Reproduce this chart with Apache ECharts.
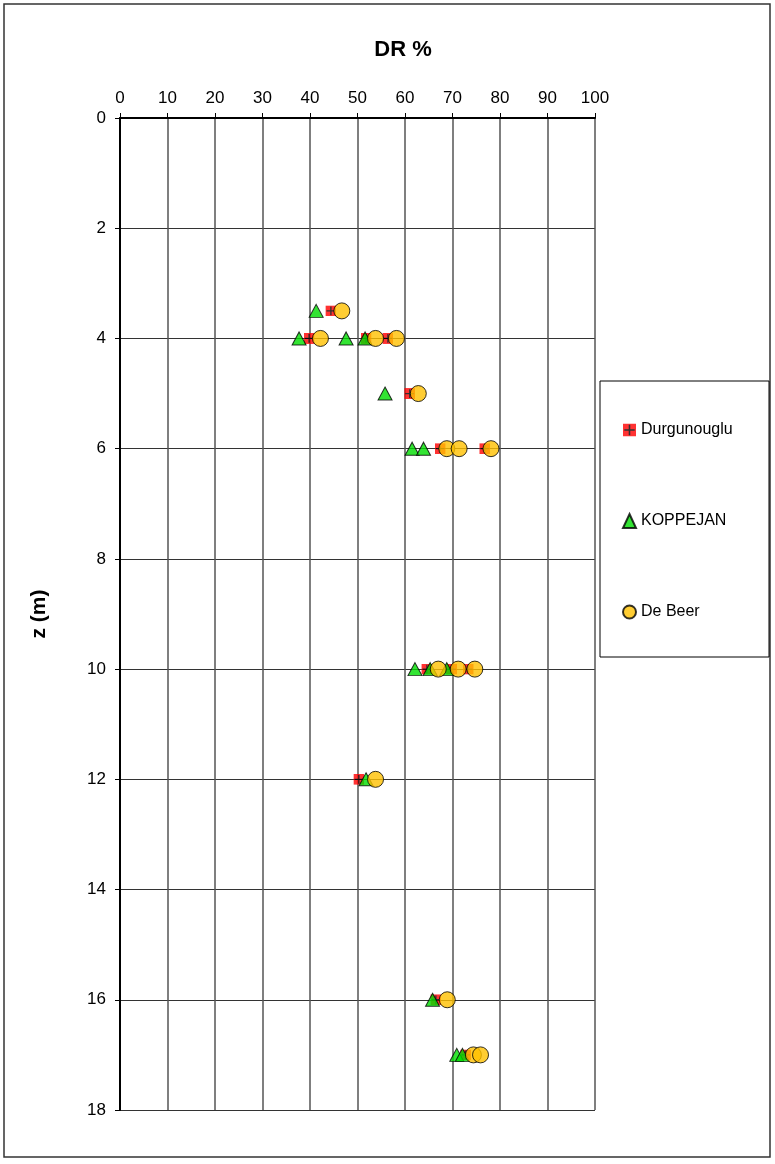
<!DOCTYPE html>
<html>
<head>
<meta charset="utf-8">
<script src="https://cdn.jsdelivr.net/npm/echarts@6/dist/echarts.min.js"></script>
<style>
  html, body { margin: 0; padding: 0; background: #fff; }
  #chart { width: 775px; height: 1164px; }
</style>
</head>
<body>
<div id="chart"></div>
<script>
// Relative density DR (%) against depth z (m), three correlations
const xTicks = [0, 10, 20, 30, 40, 50, 60, 70, 80, 90, 100];
const yTicks = [0, 2, 4, 6, 8, 10, 12, 14, 16, 18];

const durgDepth = [3.5, 4, 4, 4, 5, 6, 6, 10, 10, 10, 12, 16, 17];
const durgDR    = [44.4, 39.8, 51.8, 56.4, 61.0, 67.4, 76.8, 64.6, 69.8, 73.3, 50.3, 66.5, 72.8];

const koppDepth = [3.5, 4, 4, 4, 5, 6, 6, 10, 10, 10, 12, 16, 17, 17];
const koppDR    = [41.3, 37.7, 47.6, 51.6, 55.8, 61.5, 63.9, 62.1, 65.3, 68.8, 51.8, 65.8, 70.9, 72.1];

const beerDepth = [3.5, 4, 4, 4, 5, 6, 6, 6, 10, 10, 10, 12, 16, 17, 17];
const beerDR    = [46.7, 42.2, 53.8, 58.2, 62.8, 68.8, 71.4, 78.1, 67.0, 71.2, 74.7, 53.8, 68.9, 74.4, 75.9];

const pairs = (xs, ys) => xs.map((v, i) => [v, ys[i]]);

// red square with a thin black cross
const crossSvg = "<svg xmlns='http://www.w3.org/2000/svg' width='20' height='20' viewBox='0 0 20 20'>" +
  "<rect x='0' y='0' width='20' height='20' fill='#ff0000'/>" +
  "<path d='M10 2V18M2 10H18' stroke='#000' stroke-width='2.4'/></svg>";
const crossSymbol = 'image://data:image/svg+xml;charset=utf-8,' + encodeURIComponent(crossSvg);

const font = '"Liberation Sans", Arial, sans-serif';

const chart = echarts.init(document.getElementById('chart'), null, { renderer: 'canvas' });
chart.setOption({
  animation: false,
  backgroundColor: '#fff',
  title: {
    text: 'DR %',
    left: 398, top: 34, textAlign: 'center',
    textStyle: { fontFamily: font, fontSize: 22, fontWeight: 'bold', color: '#000' }
  },
  grid: { left: 120, top: 118, width: 475, height: 992, containLabel: false },
  xAxis: {
    type: 'value', position: 'top', min: 0, max: 100, interval: 10,
    axisLine: { show: true, onZero: false, lineStyle: { color: '#000', width: 2 } },
    axisTick: { show: true, inside: false, length: 5, lineStyle: { color: '#000', width: 1 } },
    axisLabel: { margin: 11, fontFamily: font, fontSize: 17, color: '#000' },
    splitLine: { show: true, lineStyle: { color: '#555', width: 1.5 } }
  },
  yAxis: {
    type: 'value', inverse: true, min: 0, max: 18, interval: 2,
    name: 'z (m)', nameLocation: 'middle', nameGap: 70, nameRotate: 90,
    nameTextStyle: { fontFamily: font, fontSize: 21, fontWeight: 'bold', color: '#000' },
    axisLine: { show: true, onZero: false, lineStyle: { color: '#000', width: 2 } },
    axisTick: { show: true, inside: false, length: 5, lineStyle: { color: '#000', width: 1 } },
    axisLabel: { margin: 14, fontFamily: font, fontSize: 17, color: '#000' },
    splitLine: { show: true, lineStyle: { color: '#333', width: 1 } }
  },
  legend: {
    orient: 'vertical', left: 617, top: 417,
    itemWidth: 13, itemHeight: 14, itemGap: 75,
    textStyle: { fontFamily: font, fontSize: 16, color: '#000' },
    data: [
      { name: 'Durgunouglu', icon: crossSymbol },
      { name: 'KOPPEJAN' },
      { name: 'De Beer' }
    ]
  },
  graphic: [
    { type: 'rect', shape: { x: 4, y: 4, width: 766, height: 1153 },
      style: { fill: 'none', stroke: '#333', lineWidth: 1.5 }, silent: true, z: -1 },
    { type: 'rect', shape: { x: 600, y: 381, width: 169, height: 276 },
      style: { fill: '#fff', stroke: '#000', lineWidth: 1 }, silent: true, z: -1 }
  ],
  series: [
    {
      name: 'Durgunouglu', type: 'scatter', symbol: crossSymbol, symbolSize: 11,
      data: pairs(durgDR, durgDepth), z: 2
    },
    {
      name: 'KOPPEJAN', type: 'scatter', symbol: 'triangle', symbolSize: [14, 13],
      itemStyle: { color: '#00dd00', borderColor: '#000', borderWidth: 1 },
      data: pairs(koppDR, koppDepth), z: 3
    },
    {
      name: 'De Beer', type: 'scatter', symbol: 'circle', symbolSize: 16,
      itemStyle: { color: '#ffc000', borderColor: '#000', borderWidth: 1 },
      data: pairs(beerDR, beerDepth), z: 4
    }
  ]
});
</script>
</body>
</html>
